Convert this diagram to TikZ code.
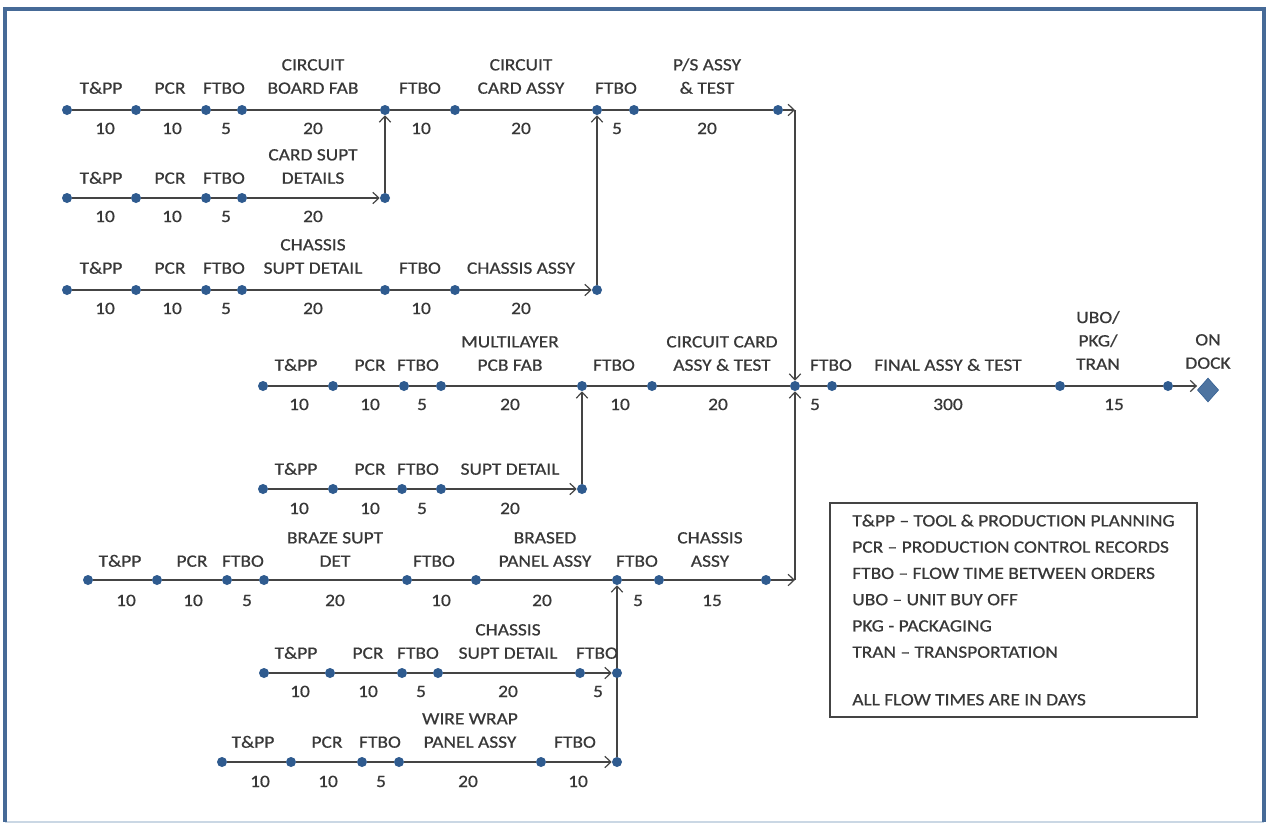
\documentclass[tikz,border=0pt]{standalone}
\usepackage{fontspec}
\setmainfont[FakeStretch=1.12,FakeBold=0.6]{Carlito}
\usetikzlibrary{arrows.meta,shapes.geometric}
\definecolor{dotblue}{HTML}{2F5B8F}
\definecolor{linegray}{HTML}{444444}
\definecolor{txtgray}{HTML}{383838}
\definecolor{framebl}{HTML}{466A97}
\definecolor{framelt}{HTML}{CAD7E4}
\newcommand\lblfont{\fontsize{13}{17.5}\selectfont}
\pgfdeclarelayer{paper}
\pgfdeclarelayer{bg}
\pgfsetlayers{paper,bg,main}

\begin{document}
\begin{tikzpicture}[x=0.75pt,y=-0.75pt,
  dot/.style={circle,fill=dotblue,inner sep=0pt,minimum size=7.5pt},
  lbl/.style={font=\lblfont,text=txtgray,inner sep=0pt,text depth=0pt,anchor=south,align=center},
  num/.style={font=\lblfont,text=txtgray,inner sep=0pt,anchor=base},
  ln/.style={draw=linegray,line width=1.1pt},
  arr/.style={ln,-{Straight Barb[length=4.5pt,width=8.5pt,line width=0.9pt]}},
  legendbox/.style={draw=linegray,line width=0.9pt,font=\fontsize{13}{19.7}\selectfont,text=txtgray,
    align=left,inner sep=0pt,minimum width=275.25pt,minimum height=160.5pt},
]
\begin{pgfonlayer}{paper}
  \fill[white] (0,0) rectangle (1268,825);
\end{pgfonlayer}
\useasboundingbox (0,0) rectangle (1268,825);

% page frame
\draw[framelt,line width=1.5pt] (5,822) -- (1264,822);
\draw[framebl,line width=3pt] (5,822) -- (5,9) -- (1264,9) -- (1264,822);

% ---------- row 1: circuit board / card / power supply ----------
\foreach \x [count=\k] in {67,136,206,242,385,455,597,634,778} \node[dot] (a\k) at (\x,110) {};
\coordinate (aend) at (795,110);
\foreach \x/\t [count=\k] in {101/T\&PP,170/PCR,224/FTBO,313/{CIRCUIT\\BOARD FAB},420/FTBO,521/{CIRCUIT\\CARD ASSY},616/FTBO}
  \node[lbl] (la\k) at (\x,94) {\t};
\node[lbl] (la8) at (707,94) {P/S ASSY\\\& TEST};
\foreach \x/\t [count=\k] in {105/10,172/10,226/5,313/20,421/10,521/20,617/5,707/20}
  \node[num] (na\k) at (\x,134) {\t};

% ---------- row 2: card support details ----------
\foreach \x [count=\k] in {67,136,206,242,385} \node[dot] (b\k) at (\x,198) {};
\foreach \x/\t [count=\k] in {101/T\&PP,170/PCR,224/FTBO,313/{CARD SUPT\\DETAILS}}
  \node[lbl] (lb\k) at (\x,184) {\t};
\foreach \x/\t [count=\k] in {105/10,172/10,226/5,313/20}
  \node[num] (nb\k) at (\x,222) {\t};

% ---------- row 3: chassis support ----------
\foreach \x [count=\k] in {67,136,206,242,385,455,597} \node[dot] (c\k) at (\x,290) {};
\foreach \x/\t [count=\k] in {101/T\&PP,170/PCR,224/FTBO,313/{CHASSIS\\SUPT DETAIL},420/FTBO,521/CHASSIS ASSY}
  \node[lbl] (lc\k) at (\x,274) {\t};
\foreach \x/\t [count=\k] in {105/10,172/10,226/5,313/20,421/10,521/20}
  \node[num] (nc\k) at (\x,314) {\t};

% ---------- row 4: main line to dock ----------
\foreach \x [count=\k] in {263,333,404,441,582,652,795,832,1060,1168} \node[dot] (d\k) at (\x,386) {};
\node[diamond,fill=dotblue!85!white,draw=dotblue,inner sep=0pt,minimum width=16pt,minimum height=18pt] (dock) at (1208,390) {};
\foreach \x/\t [count=\k] in {296/T\&PP,370/PCR,418/FTBO,510/{MULTILAYER\\PCB FAB},614/FTBO,722/{CIRCUIT CARD\\ASSY \& TEST},831/FTBO,948/FINAL ASSY \& TEST}
  \node[lbl] (ld\k) at (\x,371) {\t};
\node[lbl] (ld9) at (1098,370) {UBO/\\PKG/\\TRAN};
\node[lbl] (ld10) at (1208,369) {ON\\DOCK};
\foreach \x/\t [count=\k] in {299/10,370/10,422/5,510/20,620/10,718/20,815/5,948/300,1114/15}
  \node[num] (nd\k) at (\x,410) {\t};

% ---------- row 5: support detail ----------
\foreach \x [count=\k] in {263,333,402,441,582} \node[dot] (e\k) at (\x,489) {};
\foreach \x/\t [count=\k] in {296/T\&PP,370/PCR,418/FTBO,510/SUPT DETAIL}
  \node[lbl] (le\k) at (\x,475) {\t};
\foreach \x/\t [count=\k] in {299/10,370/10,422/5,510/20}
  \node[num] (ne\k) at (\x,514) {\t};

% ---------- row 6: brazed panel / chassis ----------
\foreach \x [count=\k] in {88,157,227,264,407,476,617,659,766} \node[dot] (f\k) at (\x,580) {};
\coordinate (fend) at (795,580);
\foreach \x/\t [count=\k] in {120/T\&PP,192/PCR,243/FTBO,335/{BRAZE SUPT\\DET},434/FTBO,545/{BRASED\\PANEL ASSY},637/FTBO,710/{CHASSIS\\ASSY}}
  \node[lbl] (lf\k) at (\x,567) {\t};
\foreach \x/\t [count=\k] in {126/10,193/10,247/5,335/20,441/10,542/20,638/5,712/15}
  \node[num] (nf\k) at (\x,606) {\t};

% ---------- row 7: chassis support detail ----------
\foreach \x [count=\k] in {264,330,402,438,580,617} \node[dot] (g\k) at (\x,673) {};
\foreach \x/\t [count=\k] in {296/T\&PP,368/PCR,418/FTBO,508/{CHASSIS\\SUPT DETAIL},597/FTBO}
  \node[lbl] (lg\k) at (\x,659) {\t};
\foreach \x/\t [count=\k] in {300/10,368/10,421/5,508/20,598/5}
  \node[num] (ng\k) at (\x,697) {\t};

% ---------- row 8: wire wrap panel ----------
\foreach \x [count=\k] in {222,291,362,399,541,617} \node[dot] (h\k) at (\x,762) {};
\foreach \x/\t [count=\k] in {253/T\&PP,327/PCR,380/FTBO,470/{WIRE WRAP\\PANEL ASSY},575/FTBO}
  \node[lbl] (lh\k) at (\x,748) {\t};
\foreach \x/\t [count=\k] in {260/10,328/10,381/5,468/20,578/10}
  \node[num] (nh\k) at (\x,787) {\t};

% ---------- legend ----------
\node[legendbox] (legend) at (1013.5,610) {%
T\&PP – TOOL \& PRODUCTION PLANNING\\
PCR – PRODUCTION CONTROL RECORDS\\
FTBO – FLOW TIME BETWEEN ORDERS\\
UBO – UNIT BUY OFF\\
PKG - PACKAGING\\
TRAN – TRANSPORTATION\\[16pt]
ALL FLOW TIMES ARE IN DAYS};

% ---------- connectors ----------
\begin{pgfonlayer}{bg}
  \draw[ln] (a1) -- (a2) -- (a3) -- (a4) -- (a5) -- (a6) -- (a7) -- (a8) -- (a9);
  \draw[arr] (a9) -- (aend);
  \draw[arr] (aend) -- (d7);

  \draw[ln] (b1) -- (b2) -- (b3) -- (b4);
  \draw[arr] (b4) -- (b5);
  \draw[arr] (b5) -- (a5);

  \draw[ln] (c1) -- (c2) -- (c3) -- (c4) -- (c5) -- (c6);
  \draw[arr] (c6) -- (c7);
  \draw[arr] (c7) -- (a7);

  \draw[ln] (d1) -- (d2) -- (d3) -- (d4) -- (d5) -- (d6) -- (d7) -- (d8) -- (d9) -- (d10);
  \draw[arr] (d10) -- (d10 -| dock.west);

  \draw[ln] (e1) -- (e2) -- (e3) -- (e4);
  \draw[arr] (e4) -- (e5);
  \draw[arr] (e5) -- (d5);

  \draw[ln] (f1) -- (f2) -- (f3) -- (f4) -- (f5) -- (f6) -- (f7) -- (f8) -- (f9);
  \draw[arr] (f9) -- (fend);
  \draw[arr] (fend) -- (d7);

  \draw[ln] (g1) -- (g2) -- (g3) -- (g4) -- (g5);
  \draw[arr] (g5) -- (g6);

  \draw[ln] (h1) -- (h2) -- (h3) -- (h4) -- (h5);
  \draw[arr] (h5) -- (h6);
  \draw[arr] (h6) -- (f7);
\end{pgfonlayer}
\end{tikzpicture}
\end{document}
